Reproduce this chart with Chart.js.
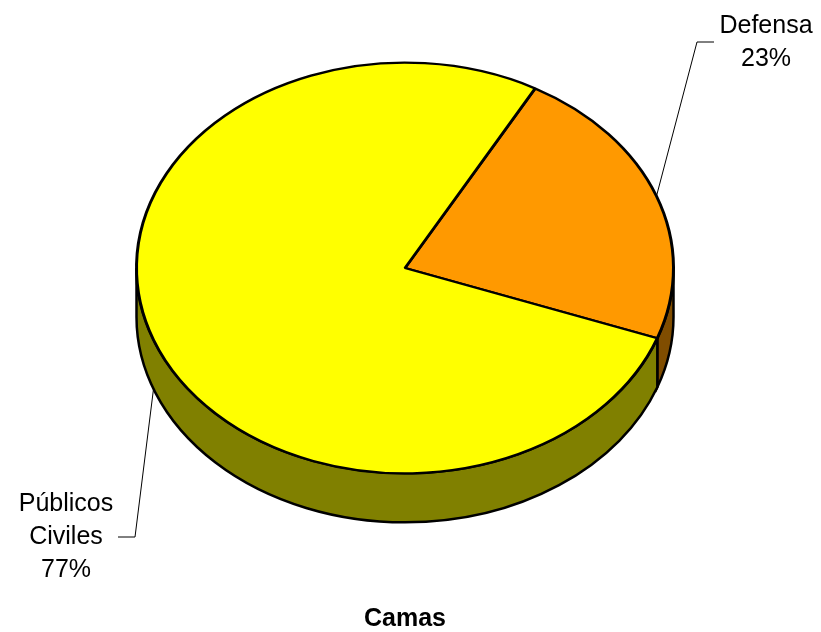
<!DOCTYPE html>
<html>
<head>
<meta charset="utf-8">
<style>
html, body { margin: 0; padding: 0; background: #fff; }
#wrap { width: 821px; height: 632px; }
</style>
<script src="https://cdn.jsdelivr.net/npm/chart.js@4/dist/chart.umd.min.js"></script>
</head>
<body>
<div id="wrap"><canvas id="pie"></canvas></div>
<script>
var categories = ['Defensa', 'Públicos Civiles'];
var values = [22.5, 77.5];
var percentLabels = ['23%', '77%'];
var topColors = ['#FF9900', '#FFFF00'];
var sideColors = ['#804D00', '#808000'];
var chartTitle = 'Camas';

// look of the tilted pie
var centerX = 405, centerY = 268;
var squash = 206.5 / 270;
var depth = 49;
var font = '25px "Liberation Sans", Arial, sans-serif';

function tilt(ctx, el) {
    ctx.translate(centerX, centerY);
    ctx.scale(1, squash);
    ctx.translate(-el.x, -el.y);
}

// side wall, only the part of the rim facing the viewer
function drawWall(ctx, el, fill) {
    var r = el.outerRadius;
    var full = Math.PI * 2;
    var a = el.startAngle, b = el.endAngle;
    [[0, Math.PI], [full, full + Math.PI], [-full, -Math.PI]].forEach(function (w) {
        var s = Math.max(a, w[0]), e = Math.min(b, w[1]);
        if (e <= s) return;
        ctx.beginPath();
        ctx.ellipse(centerX, centerY, r, r * squash, 0, s - w[0], e - w[0]);
        ctx.ellipse(centerX, centerY + depth, r, r * squash, 0, e - w[0], s - w[0], true);
        ctx.closePath();
        ctx.fillStyle = fill;
        ctx.fill();
        ctx.lineWidth = 2.5;
        ctx.strokeStyle = '#000';
        ctx.stroke();
    });
}

var tiltedPie = {
    id: 'tiltedPie',
    beforeDatasetsDraw: function (chart) {
        var ctx = chart.ctx;
        var arcs = chart.getDatasetMeta(0).data;
        arcs.forEach(function (el, i) { drawWall(ctx, el, sideColors[i]); });
        ctx.save();
        tilt(ctx, arcs[0]);
    },
    afterDatasetsDraw: function (chart) {
        var ctx = chart.ctx;
        ctx.restore();
        var arcs = chart.getDatasetMeta(0).data;
        ctx.save();
        ctx.font = font;
        ctx.fillStyle = '#000';
        ctx.textAlign = 'center';
        ctx.textBaseline = 'middle';
        ctx.strokeStyle = '#000';
        ctx.lineWidth = 1;

        // Defensa: leader from the middle of the slice up to the label
        var mid0 = (arcs[0].startAngle + arcs[0].endAngle) / 2;
        var r = arcs[0].outerRadius;
        ctx.beginPath();
        ctx.moveTo(centerX + r * Math.cos(mid0), centerY + r * squash * Math.sin(mid0));
        ctx.lineTo(697, 42);
        ctx.lineTo(714, 42);
        ctx.stroke();
        ctx.fillText(categories[0], 766, 26);
        ctx.fillText(percentLabels[0], 766, 59);

        // Públicos Civiles: leader starts on the lower rim
        var mid1 = (arcs[1].startAngle + arcs[1].endAngle) / 2;
        ctx.beginPath();
        ctx.moveTo(centerX + r * Math.cos(mid1), centerY + depth + r * squash * Math.sin(mid1));
        ctx.lineTo(135, 537);
        ctx.lineTo(118, 537);
        ctx.stroke();
        var words = categories[1].split(' ');
        ctx.fillText(words[0], 66, 504);
        ctx.fillText(words[1], 66, 537);
        ctx.fillText(percentLabels[1], 66, 570);
        ctx.restore();
    }
};

new Chart(document.getElementById('pie'), {
    type: 'pie',
    data: {
        labels: categories,
        datasets: [{
            data: values,
            backgroundColor: topColors,
            borderColor: '#000',
            borderWidth: 3,
            borderAlign: 'center',
            hoverOffset: 0
        }]
    },
    plugins: [tiltedPie],
    options: {
        responsive: true,
        maintainAspectRatio: false,
        animation: false,
        rotation: 29,
        layout: { padding: { left: 135, right: 146, top: 10, bottom: 0 } },
        plugins: {
            legend: { display: false },
            tooltip: { enabled: false },
            title: {
                display: true,
                text: chartTitle,
                position: 'bottom',
                color: '#000',
                font: { family: '"Liberation Sans", Arial, sans-serif', size: 25, weight: 'bold', lineHeight: 1 },
                padding: { top: 0, bottom: 0 }
            }
        }
    }
});
</script>
</body>
</html>
